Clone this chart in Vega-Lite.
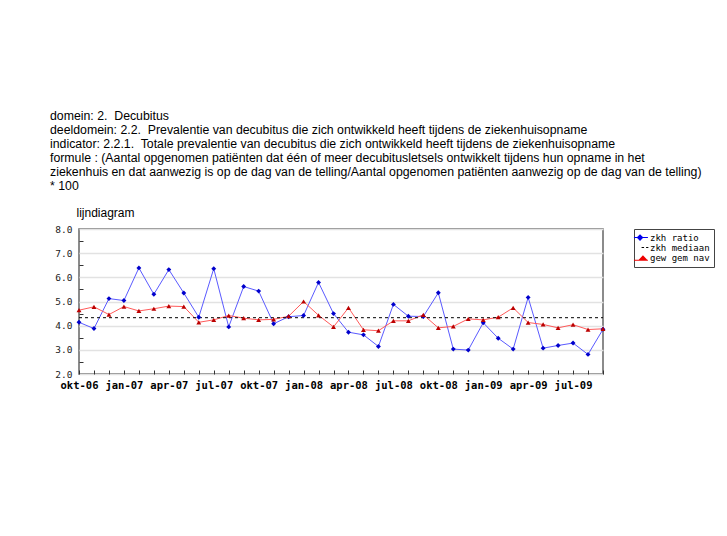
{
  "$schema": "https://vega.github.io/schema/vega-lite/v6.json",
  "width": 524,
  "height": 145,
  "autosize": {"type": "none"},
  "padding": {"left": 79, "top": 229, "right": 124, "bottom": 162},
  "background": "white",
  "title": {
    "text": [
      "domein: 2.\u00a0 Decubitus",
      "deeldomein: 2.2.\u00a0 Prevalentie van decubitus die zich ontwikkeld heeft tijdens de ziekenhuisopname",
      "indicator: 2.2.1.\u00a0 Totale prevalentie van decubitus die zich ontwikkeld heeft tijdens de ziekenhuisopname",
      "formule : (Aantal opgenomen patiënten dat één of meer decubitusletsels ontwikkelt tijdens hun opname in het",
      "ziekenhuis en dat aanwezig is op de dag van de telling/Aantal opgenomen patiënten aanwezig op de dag van de telling)",
      "* 100"
    ],
    "anchor": "start",
    "frame": "group",
    "dx": -29,
    "offset": 14,
    "limit": 700,
    "font": "Liberation Sans",
    "fontSize": 12.3,
    "fontWeight": "normal",
    "lineHeight": 14,
    "color": "black"
  },
  "data": {
    "values": [
      {"maand": "okt-06", "zkh ratio": 4.14, "zkh mediaan": 4.33, "gew gem nav": 4.64},
      {"maand": "nov-06", "zkh ratio": 3.88, "zkh mediaan": 4.33, "gew gem nav": 4.78},
      {"maand": "dec-06", "zkh ratio": 5.12, "zkh mediaan": 4.33, "gew gem nav": 4.46},
      {"maand": "jan-07", "zkh ratio": 5.04, "zkh mediaan": 4.33, "gew gem nav": 4.79},
      {"maand": "feb-07", "zkh ratio": 6.39, "zkh mediaan": 4.33, "gew gem nav": 4.61},
      {"maand": "mrt-07", "zkh ratio": 5.30, "zkh mediaan": 4.33, "gew gem nav": 4.70},
      {"maand": "apr-07", "zkh ratio": 6.32, "zkh mediaan": 4.33, "gew gem nav": 4.81},
      {"maand": "mei-07", "zkh ratio": 5.35, "zkh mediaan": 4.33, "gew gem nav": 4.79},
      {"maand": "jun-07", "zkh ratio": 4.35, "zkh mediaan": 4.33, "gew gem nav": 4.14},
      {"maand": "jul-07", "zkh ratio": 6.36, "zkh mediaan": 4.33, "gew gem nav": 4.24},
      {"maand": "aug-07", "zkh ratio": 3.95, "zkh mediaan": 4.33, "gew gem nav": 4.42},
      {"maand": "sep-07", "zkh ratio": 5.62, "zkh mediaan": 4.33, "gew gem nav": 4.31},
      {"maand": "okt-07", "zkh ratio": 5.43, "zkh mediaan": 4.33, "gew gem nav": 4.24},
      {"maand": "nov-07", "zkh ratio": 4.08, "zkh mediaan": 4.33, "gew gem nav": 4.26},
      {"maand": "dec-07", "zkh ratio": 4.37, "zkh mediaan": 4.33, "gew gem nav": 4.39},
      {"maand": "jan-08", "zkh ratio": 4.42, "zkh mediaan": 4.33, "gew gem nav": 5.00},
      {"maand": "feb-08", "zkh ratio": 5.79, "zkh mediaan": 4.33, "gew gem nav": 4.43},
      {"maand": "mrt-08", "zkh ratio": 4.50, "zkh mediaan": 4.33, "gew gem nav": 3.95},
      {"maand": "apr-08", "zkh ratio": 3.73, "zkh mediaan": 4.33, "gew gem nav": 4.74},
      {"maand": "mei-08", "zkh ratio": 3.62, "zkh mediaan": 4.33, "gew gem nav": 3.83},
      {"maand": "jun-08", "zkh ratio": 3.14, "zkh mediaan": 4.33, "gew gem nav": 3.79},
      {"maand": "jul-08", "zkh ratio": 4.88, "zkh mediaan": 4.33, "gew gem nav": 4.20},
      {"maand": "aug-08", "zkh ratio": 4.39, "zkh mediaan": 4.33, "gew gem nav": 4.20},
      {"maand": "sep-08", "zkh ratio": 4.38, "zkh mediaan": 4.33, "gew gem nav": 4.45},
      {"maand": "okt-08", "zkh ratio": 5.36, "zkh mediaan": 4.33, "gew gem nav": 3.91},
      {"maand": "nov-08", "zkh ratio": 3.03, "zkh mediaan": 4.33, "gew gem nav": 3.97},
      {"maand": "dec-08", "zkh ratio": 2.99, "zkh mediaan": 4.33, "gew gem nav": 4.28},
      {"maand": "jan-09", "zkh ratio": 4.12, "zkh mediaan": 4.33, "gew gem nav": 4.24},
      {"maand": "feb-09", "zkh ratio": 3.48, "zkh mediaan": 4.33, "gew gem nav": 4.35},
      {"maand": "mrt-09", "zkh ratio": 3.03, "zkh mediaan": 4.33, "gew gem nav": 4.74},
      {"maand": "apr-09", "zkh ratio": 5.17, "zkh mediaan": 4.33, "gew gem nav": 4.13},
      {"maand": "mei-09", "zkh ratio": 3.07, "zkh mediaan": 4.33, "gew gem nav": 4.05},
      {"maand": "jun-09", "zkh ratio": 3.18, "zkh mediaan": 4.33, "gew gem nav": 3.91},
      {"maand": "jul-09", "zkh ratio": 3.28, "zkh mediaan": 4.33, "gew gem nav": 4.04},
      {"maand": "aug-09", "zkh ratio": 2.81, "zkh mediaan": 4.33, "gew gem nav": 3.84},
      {"maand": "sep-09", "zkh ratio": 3.85, "zkh mediaan": 4.33, "gew gem nav": 3.87}
    ]
  },
  "encoding": {
    "x": {
      "field": "maand",
      "type": "ordinal",
      "sort": null,
      "scale": {"type": "point", "padding": 0},
      "axis": {
        "title": null,
        "labelAngle": 0,
        "labelFont": "DejaVu Sans Mono",
        "labelFontSize": 10.5,
        "labelFontWeight": "bold",
        "labelColor": "black",
        "labelExpr": "test(/^(okt|jan|apr|jul)/, datum.label) ? datum.label : ''",
        "labelOverlap": false,
        "labelPadding": 10,
        "tickSize": -4,
        "tickColor": "#333",
        "tickWidth": 1,
        "domain": false,
        "grid": false
      }
    }
  },
  "layer": [
    {
      "mark": {"type": "line", "color": "#5a5aff", "strokeWidth": 1},
      "encoding": {
        "y": {
          "field": "zkh ratio",
          "type": "quantitative",
          "scale": {"domain": [2, 8], "nice": false, "zero": false},
          "axis": {
            "values": [2, 3, 4, 5, 6, 7, 8],
            "format": ".1f",
            "grid": true,
            "gridColor": "#e2e2e2",
            "gridWidth": 1.5,
            "ticks": false,
            "domain": false,
            "labelFont": "DejaVu Sans Mono",
            "labelFontSize": 9.5,
            "labelColor": "#222",
            "labelPadding": 7,
            "title": "lijndiagram",
            "titleAngle": 0,
            "titleAlign": "left",
            "titleBaseline": "middle",
            "titleX": -3,
            "titleY": -17,
            "titleFont": "Liberation Sans",
            "titleFontSize": 12,
            "titleFontWeight": "normal",
            "titleColor": "black"
          }
        }
      }
    },
    {
      "mark": {"type": "line", "color": "#ff5a5a", "strokeWidth": 1},
      "encoding": {
        "y": {"field": "gew gem nav", "type": "quantitative", "axis": null}
      }
    },
    {
      "mark": {"type": "line", "color": "black", "strokeWidth": 1, "strokeDash": [3, 3]},
      "encoding": {
        "y": {
          "field": "zkh mediaan",
          "type": "quantitative",
          "axis": {
            "orient": "left",
            "values": [2.5, 3.5, 4.5, 5.5, 6.5, 7.5],
            "labels": false,
            "grid": false,
            "domain": false,
            "tickSize": -4,
            "tickColor": "#333",
            "title": null
          }
        }
      }
    },
    {
      "transform": [{"fold": ["zkh ratio", "gew gem nav"], "as": ["reeks", "waarde"]}],
      "mark": {"type": "point", "filled": true, "size": 24, "opacity": 1},
      "encoding": {
        "y": {"field": "waarde", "type": "quantitative", "axis": null},
        "color": {
          "field": "reeks",
          "type": "nominal",
          "scale": {"domain": ["zkh ratio", "gew gem nav"], "range": ["#0000cc", "#bb0000"]},
          "legend": null
        },
        "shape": {
          "field": "reeks",
          "type": "nominal",
          "scale": {"domain": ["zkh ratio", "gew gem nav"], "range": ["diamond", "triangle-up"]},
          "legend": null
        }
      }
    },
    {
      "transform": [{"fold": ["zkh ratio", "zkh mediaan", "gew gem nav"], "as": ["reeks", "waarde"]}],
      "mark": {"type": "point", "filled": true, "size": 1, "opacity": 0},
      "encoding": {
        "y": {"field": "waarde", "type": "quantitative", "axis": null},
        "color": {
          "field": "reeks",
          "type": "nominal",
          "scale": {"domain": ["zkh ratio", "zkh mediaan", "gew gem nav"], "range": ["#0000ee", "#000000", "#ee0000"]},
          "legend": {
            "title": null,
            "orient": "right",
            "offset": 31,
            "labelFont": "DejaVu Sans Mono",
            "labelFontSize": 9,
            "labelColor": "black",
            "symbolSize": 81,
            "symbolOpacity": 1,
            "symbolFillColor": "black",
            "symbolStrokeWidth": 0,
            "rowPadding": -2,
            "padding": 4,
            "labelOffset": 3,
            "strokeColor": "#444"
          }
        },
        "shape": {
          "field": "reeks",
          "type": "nominal",
          "scale": {
            "domain": ["zkh ratio", "zkh mediaan", "gew gem nav"],
            "range": [
              "M-1.9,-0.1H1.2V0.1H-1.9Z M-0.55,-0.75L0.2,0L-0.55,0.75L-1.3,0Z",
              "M-0.2,-0.12H0.35V0.12H-0.2Z M0.8,-0.12H1.3V0.12H0.8Z",
              "M-1.9,0.5H1.2V0.7H-1.9Z M0.1,-0.5L1.2,0.67L-1.0,0.67Z"
            ]
          },
          "legend": {
            "title": null,
            "orient": "right",
            "offset": 31,
            "labelFont": "DejaVu Sans Mono",
            "labelFontSize": 9,
            "labelColor": "black",
            "symbolSize": 81,
            "symbolOpacity": 1,
            "symbolFillColor": "black",
            "symbolStrokeWidth": 0,
            "rowPadding": -2,
            "padding": 4,
            "labelOffset": 3,
            "strokeColor": "#444"
          }
        }
      }
    }
  ],
  "resolve": {"scale": {"shape": "independent", "color": "independent"}, "axis": {"y": "independent"}},
  "config": {
    "view": {"stroke": "#666", "strokeWidth": 1.5}
  }
}
